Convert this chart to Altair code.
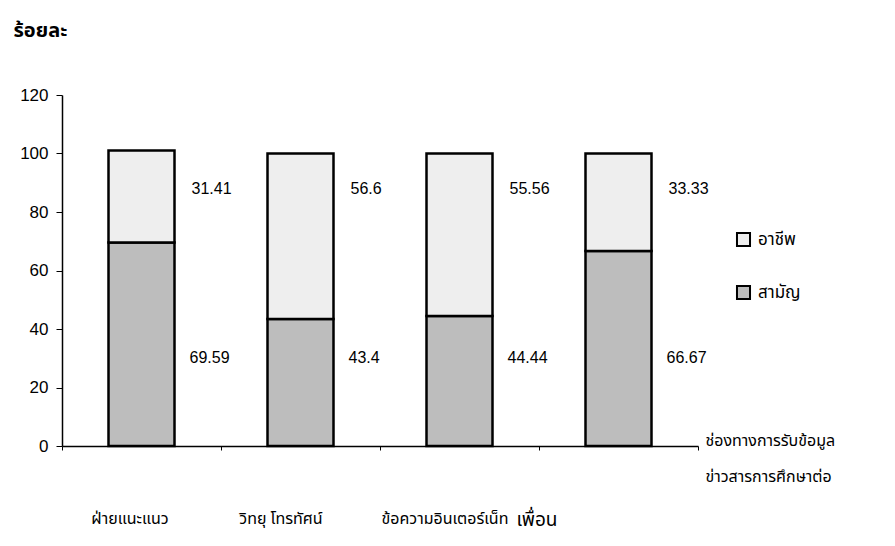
import altair as alt
import pandas as pd

categories = ["ฝ่ายแนะแนว", "วิทยุ โทรทัศน์", "ข้อความอินเตอร์เน็ท", "เพื่อน"]
series = ["อาชีพ", "สามัญ"]
vocational = [31.41, 56.6, 55.56, 33.33]
general = [69.59, 43.4, 44.44, 66.67]
y_ticks = [0, 20, 40, 60, 80, 100, 120]

rows = []
for i, c in enumerate(categories):
    rows.append({"cat": c, "type": "สามัญ", "value": general[i], "ord": 0, "label": f"{general[i]:g}"})
    rows.append({"cat": c, "type": "อาชีพ", "value": vocational[i], "ord": 1, "label": f"{vocational[i]:g}"})
df = pd.DataFrame(rows)

THAI = "Noto Sans Thai, Loma, Garuda, Tahoma, sans-serif"
NUM = "Liberation Sans, Arial, sans-serif"

x_enc = alt.X(
    "cat:N",
    sort=categories,
    scale=alt.Scale(paddingInner=0, paddingOuter=0),
    axis=alt.Axis(
        title=["ช่องทางการรับข้อมูล", "ข่าวสารการศึกษาต่อ"],
        titleFont=THAI,
        titleFontSize=16,
        titleFontWeight="normal",
        titleColor="black",
        titleAlign="left",
        titleBaseline="middle",
        titleX=643,
        titleY=-6,
        titleLineHeight=36,
        labelFont=THAI,
        labelFontSize={
            "condition": {"test": "datum.value === 'เพื่อน'", "value": 19},
            "value": 16,
        },
        labelColor="black",
        labelAngle=0,
        labelPadding=60,
        labelOffset={
            "condition": [
                {"test": "datum.value === 'เพื่อน'", "value": -82},
                {"test": "datum.value === 'วิทยุ โทรทัศน์'", "value": -20},
                {"test": "datum.value === 'ข้อความอินเตอร์เน็ท'", "value": -15},
            ],
            "value": -12,
        },
        tickBand="extent",
        tickSize=4,
        tickColor="black",
        domainColor="black",
        domainWidth=1.5,
        grid=False,
    ),
)

bars = alt.Chart(df).mark_bar(size=66, stroke="black", strokeWidth=2.5).encode(
    x=x_enc,
    y=alt.Y(
        "value:Q",
        stack="zero",
        scale=alt.Scale(domain=[0, 120], nice=False),
        axis=alt.Axis(
            values=y_ticks,
            title="ร้อยละ",
            titleFont=THAI,
            titleFontSize=20,
            titleFontWeight="bold",
            titleColor="black",
            titleAngle=0,
            titleAlign="left",
            titleBaseline="middle",
            titleX=-49,
            titleY=-65,
            labelFont=NUM,
            labelFontSize=17,
            labelColor="black",
            labelPadding=8,
            tickSize=6,
            tickColor="black",
            domainColor="black",
            domainWidth=1.5,
            grid=False,
        ),
    ),
    color=alt.Color(
        "type:N",
        scale=alt.Scale(domain=series, range=["#eeeeee", "#bdbdbd"]),
        legend=alt.Legend(
            title=None,
            orient="none",
            legendX=673,
            legendY=136,
            symbolType="square",
            symbolSize=170,
            symbolStrokeColor="black",
            symbolStrokeWidth=2,
            symbolOpacity=1,
            labelFont=THAI,
            labelFontSize=17,
            labelColor="black",
            rowPadding=30,
            labelOffset=6,
        ),
    ),
    order=alt.Order("ord:Q"),
)

upper = alt.Chart(df).transform_filter(alt.datum.type == "อาชีพ").mark_text(
    align="left", baseline="middle", dx=50, font=NUM, fontSize=16, color="black"
).encode(x=alt.X("cat:N", sort=categories), y=alt.datum(88), text="label:N")

lower = alt.Chart(df).transform_filter(alt.datum.type == "สามัญ").mark_text(
    align="left", baseline="middle", dx=48, font=NUM, fontSize=16, color="black"
).encode(x=alt.X("cat:N", sort=categories), y=alt.datum(30), text="label:N")

chart = alt.layer(bars, upper, lower).properties(
    width=636,
    height=351,
    background="white",
    autosize=alt.AutoSizeParams(type="none"),
    padding={"left": 54, "top": 87, "right": 180, "bottom": 90},
).configure_view(stroke=None)

chart.save("out.html", embed_options={"renderer": "svg", "actions": False})
